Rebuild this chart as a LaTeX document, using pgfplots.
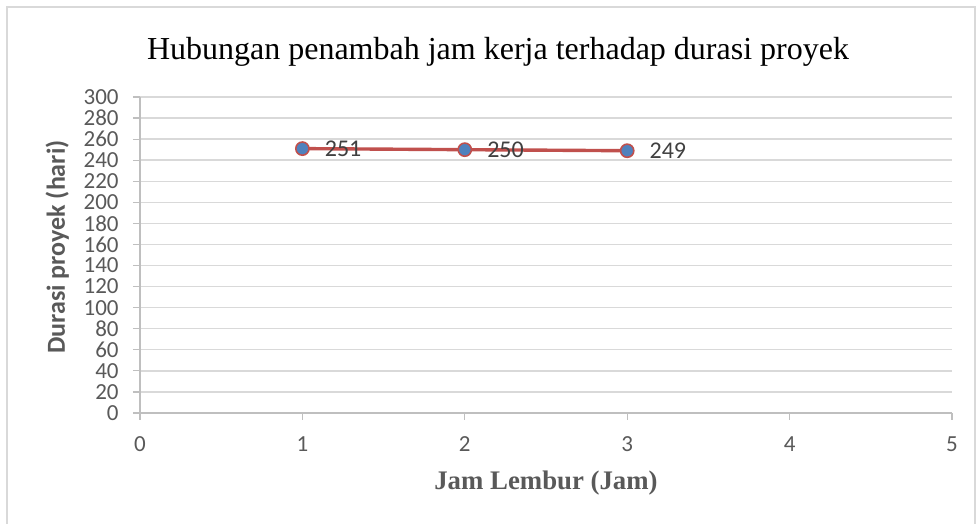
\documentclass[border=0pt]{standalone}
\usepackage{pgfplots}
\pgfplotsset{compat=1.18}
\usepackage{fontspec}
\setmainfont{Liberation Serif}
\newfontfamily\calibri{Carlito}
\definecolor{gridc}{HTML}{D9D9D9}
\definecolor{axc}{HTML}{BFBFBF}
\definecolor{tickc}{HTML}{595959}
\definecolor{lblc}{HTML}{404040}
\definecolor{linec}{HTML}{C0504D}
\definecolor{dotc}{HTML}{4F81BD}

\begin{document}
\begin{tikzpicture}
\useasboundingbox (-70pt,-55.5pt) rectangle (418pt,206.5pt);
\draw[gridc, line width=0.6pt] (-66.5pt,-60pt) -- (-66.5pt,203pt) -- (417.5pt,203pt) -- (417.5pt,-60pt);
\begin{axis}[
  at={(0,0)}, anchor=south west,
  scale only axis, width=406pt, height=158pt,
  xmin=0, xmax=5, ymin=0, ymax=300,
  xtick={0,1,2,3,4,5}, ytick={0,20,...,300},
  axis x line=bottom, axis y line=left,
  axis line style={axc, line width=0.7pt, -},
  tick align=outside, major tick length=3.5pt,
  tick style={axc, line width=0.6pt},
  ymajorgrids, grid style={gridc, line width=0.7pt},
  tick label style={font=\calibri\fontsize{11.5}{11.5}\selectfont, text=tickc},
  /pgf/number format/assume math mode=true,
  yticklabel style={inner sep=0pt, xshift=-7pt},
  xticklabel style={inner sep=0pt, yshift=-8pt},
  xlabel={\bfseries Jam Lembur (Jam)},
  xlabel style={at={(rel axis cs:0.5,0)}, anchor=center, yshift=-35pt, font=\fontsize{13.4}{13.4}\selectfont, text=tickc},
  ylabel={\calibri\bfseries Durasi proyek (hari)},
  ylabel style={at={(axis description cs:-0.102,0.525)}, anchor=center, font=\fontsize{13}{13}\selectfont, text=tickc},
  clip=false,
]
\addplot[linec, line width=1.7pt, mark=*, mark size=3.3pt,
  mark options={fill=dotc, draw=linec, line width=0.8pt},
  nodes near coords, nodes near coords align={anchor=west},
  every node near coord/.style={anchor=west, xshift=7.5pt, font=\calibri\fontsize{12}{12}\selectfont, text=lblc}]
  coordinates {(1,251) (2,250) (3,249)};
\end{axis}
\node[font=\fontsize{16}{16}\selectfont] at (179pt,180.5pt) {Hubungan penambah jam kerja terhadap durasi proyek};
\end{tikzpicture}
\end{document}
